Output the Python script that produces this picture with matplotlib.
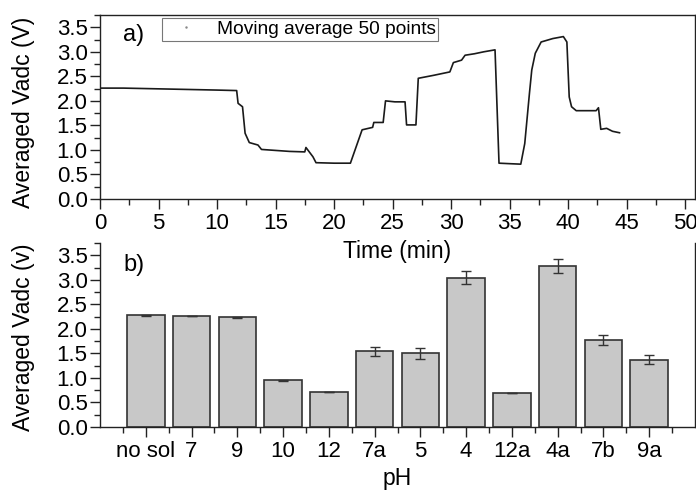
import numpy as np
import matplotlib
matplotlib.use('Agg')
import matplotlib.pyplot as plt
from matplotlib.ticker import MultipleLocator, FixedLocator

plt.rcParams['font.family'] = ['Liberation Sans', 'DejaVu Sans']

# a) moving-average trace (time in min, volts)
time_min = [0.0, 2.0, 4.0, 6.0, 8.0, 10.0, 11.68, 11.8, 12.18, 12.4, 12.76, 13.5, 13.8,
            15.0, 16.2, 17.5, 17.6, 18.2, 18.46, 20.0, 21.4, 22.4, 23.3, 23.4, 24.2,
            24.4, 25.2, 26.07, 26.2, 27.0, 27.2, 28.5, 29.9, 30.2, 30.9, 31.2, 32.0,
            32.8, 33.76, 34.1, 35.0, 35.96, 36.3, 36.7, 36.9, 37.2, 37.7, 38.7, 39.6,
            39.9, 40.1, 40.3, 40.7, 41.5, 42.4, 42.6, 42.8, 43.3, 43.8, 44.4]
vadc = [2.26, 2.26, 2.25, 2.24, 2.23, 2.22, 2.21, 1.95, 1.88, 1.34, 1.15, 1.10, 1.01,
        0.99, 0.97, 0.96, 1.05, 0.86, 0.74, 0.73, 0.73, 1.41, 1.46, 1.56, 1.56,
        2.00, 1.98, 1.98, 1.51, 1.51, 2.46, 2.52, 2.59, 2.78, 2.83, 2.93, 2.96,
        3.00, 3.04, 0.73, 0.72, 0.71, 1.13, 2.15, 2.63, 2.97, 3.20, 3.27, 3.31,
        3.20, 2.08, 1.88, 1.80, 1.80, 1.80, 1.86, 1.42, 1.44, 1.38, 1.35]

# b) averaged value for each pH step
ph_labels = ['no sol', '7', '9', '10', '12', '7a', '5', '4', '12a', '4a', '7b', '9a']
ph_means = [2.28, 2.26, 2.235, 0.95, 0.72, 1.54, 1.50, 3.04, 0.70, 3.28, 1.78, 1.37]
ph_errors = [0.01, 0.005, 0.01, 0.01, 0.0, 0.085, 0.115, 0.135, 0.0, 0.145, 0.10, 0.095]

W, H = 696, 497
fig = plt.figure(figsize=(W / 100, H / 100), dpi=100)
ax1 = fig.add_axes([100 / W, (H - 199) / H, 595 / W, 184 / H])
ax2 = fig.add_axes([100 / W, (H - 427) / H, 595 / W, 184 / H])
ax1.set_zorder(3)  # so "Time (min)" sits on top of panel b

fs = 16

def style_axis(ax):
    for s in ax.spines.values():
        s.set_linewidth(1.0)
        s.set_color('#222222')
    ax.tick_params(which='major', direction='out', length=7, width=1, labelsize=fs,
                   colors='#222222', labelcolor='black')
    ax.tick_params(which='minor', direction='out', length=4, width=1, colors='#222222')
    ax.tick_params(axis='x', pad=3)
    ax.tick_params(axis='y', pad=2)
    ax.yaxis.set_major_locator(MultipleLocator(0.5))
    ax.yaxis.set_minor_locator(MultipleLocator(0.25))
    ax.set_ylim(0, 3.75)

# top panel
ax1.plot(time_min, vadc, color='#1a1a1a', lw=1.2)
style_axis(ax1)
ax1.set_xlim(0, 50.85)
ax1.xaxis.set_major_locator(MultipleLocator(5))
ax1.xaxis.set_minor_locator(MultipleLocator(2.5))
ax1.set_ylabel('Averaged Vadc (V)', fontsize=16.5)
ax1.yaxis.set_label_coords(-0.11, 0.47)
ax1.set_xlabel('Time (min)', fontsize=16.5)
ax1.xaxis.set_label_coords(0.5, -0.225)
ax1.text(0.038, 0.89, 'a)', transform=ax1.transAxes, fontsize=17, va='center')
leg_handle = plt.Line2D([], [], color='#888888', marker='.', markersize=1.5, lw=0)
leg = ax1.legend([leg_handle], ['Moving average 50 points'], loc='upper left',
                 bbox_to_anchor=(0.104, 0.985), fontsize=13.8, frameon=True, fancybox=False,
                 borderpad=0.15, handletextpad=0.5, handlelength=2.2, borderaxespad=0)
leg.get_frame().set_edgecolor('#555555')
leg.get_frame().set_linewidth(0.8)

# bottom panel
pos = np.arange(1, len(ph_labels) + 1)
ax2.bar(pos, ph_means, width=0.82, color='#c8c8c8', edgecolor='#333333', linewidth=1.2,
        yerr=ph_errors, capsize=3.5, error_kw=dict(ecolor='#333333', elinewidth=1, capthick=1))
style_axis(ax2)
ax2.set_xlim(0, 13)
ax2.set_xticks(pos)
ax2.set_xticklabels(ph_labels)
ax2.xaxis.set_minor_locator(FixedLocator(np.arange(0.5, 13, 1.0)))
ax2.spines['top'].set_visible(False)
ax2.set_ylabel('Averaged Vadc (v)', fontsize=16.5)
ax2.yaxis.set_label_coords(-0.11, 0.49)
ax2.set_xlabel('pH', fontsize=16.5)
ax2.xaxis.set_label_coords(0.5, -0.22)
ax2.text(0.04, 0.88, 'b)', transform=ax2.transAxes, fontsize=17, va='center')

fig.savefig('out.png', dpi=100)
